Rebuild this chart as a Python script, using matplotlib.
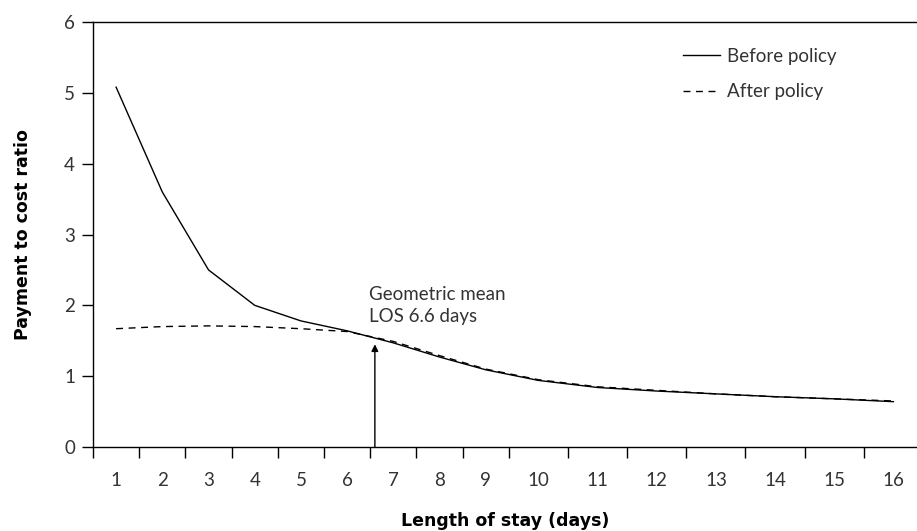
import numpy as np
import matplotlib
matplotlib.use("Agg")
import matplotlib.pyplot as plt
from matplotlib.ticker import FixedLocator, NullFormatter

plt.rcParams['font.family'] = ['Lato', 'DejaVu Sans']

# length of stay (days) and payment-to-cost ratio per day
days = [1, 2, 3, 4, 5, 6, 7, 8, 9, 10, 11, 12, 13, 14, 15, 16]
before = [5.08, 3.60, 2.50, 2.00, 1.78, 1.64, 1.47, 1.27, 1.09, 0.94,
          0.84, 0.79, 0.75, 0.71, 0.68, 0.64]
after = [1.67, 1.70, 1.71, 1.70, 1.67, 1.63, 1.49, 1.29, 1.10, 0.95,
         0.85, 0.80, 0.75, 0.71, 0.68, 0.65]
y_ticks = [0, 1, 2, 3, 4, 5, 6]
mean_los = 6.6
arrow_top = 1.45

# the day categories past 9 are drawn wider than the first ones
split = 9.5
stretch = 1.28


def fwd(x):
    x = np.asarray(x, dtype=float)
    return np.where(x <= split, x, split + (x - split) * stretch)


def inv(u):
    u = np.asarray(u, dtype=float)
    return np.where(u <= split, u, split + (u - split) / stretch)


txt = '#333333'

fig = plt.figure(figsize=(9.17, 5.31), dpi=100)
ax = fig.add_axes([93 / 917, 1 - 447 / 531, 1 - 93 / 917, (447 - 22) / 531])
ax.set_xscale('function', functions=(fwd, inv))

ax.plot(days, before, color='black', lw=1.0, label='Before policy')
ax.plot(days, after, color='black', lw=1.0, dashes=(5, 4), label='After policy')

ax.annotate('', xy=(mean_los, arrow_top), xytext=(mean_los, 0),
            arrowprops=dict(arrowstyle='-|>', color='black', lw=1.0,
                            mutation_scale=10, shrinkA=0, shrinkB=0))
ax.text(6.47, 1.72, 'Geometric mean\nLOS 6.6 days', fontsize=13.5,
        ha='left', va='bottom', linespacing=1.35, color=txt)

ax.set_xlim(0.5, 16.4)
ax.set_ylim(0, 6)

ax.xaxis.set_major_locator(FixedLocator(days))
ax.xaxis.set_minor_locator(FixedLocator([d - 0.5 for d in days]))
ax.xaxis.set_minor_formatter(NullFormatter())
ax.set_xticklabels([str(d) for d in days])
ax.tick_params(axis='x', which='major', length=0, pad=18, labelsize=13.5,
               labelcolor=txt)
ax.tick_params(axis='x', which='minor', length=8, width=1.0, direction='out')
ax.set_yticks(y_ticks)
ax.tick_params(axis='y', length=8, width=1.0, pad=5, labelsize=13.5,
               labelcolor=txt)

for side in ['left', 'bottom', 'top']:
    ax.spines[side].set_linewidth(1.0)
ax.spines['right'].set_visible(False)

ax.set_xlabel('Length of stay (days)', fontsize=12.5, fontweight='bold',
              family='DejaVu Sans')
ax.set_ylabel('Payment to cost ratio', fontsize=12.5, fontweight='bold',
              family='DejaVu Sans')
ax.xaxis.set_label_coords(0.5, -0.152)
ax.yaxis.set_label_coords(-0.074, 0.5)

leg = ax.legend(loc='upper left', bbox_to_anchor=(0.716, 0.939), frameon=False,
                handlelength=2.0, handletextpad=0.35, labelspacing=0.97,
                borderpad=0, borderaxespad=0, prop={'size': 13.5})
for t in leg.get_texts():
    t.set_color(txt)

fig.savefig('out.png', dpi=100)
